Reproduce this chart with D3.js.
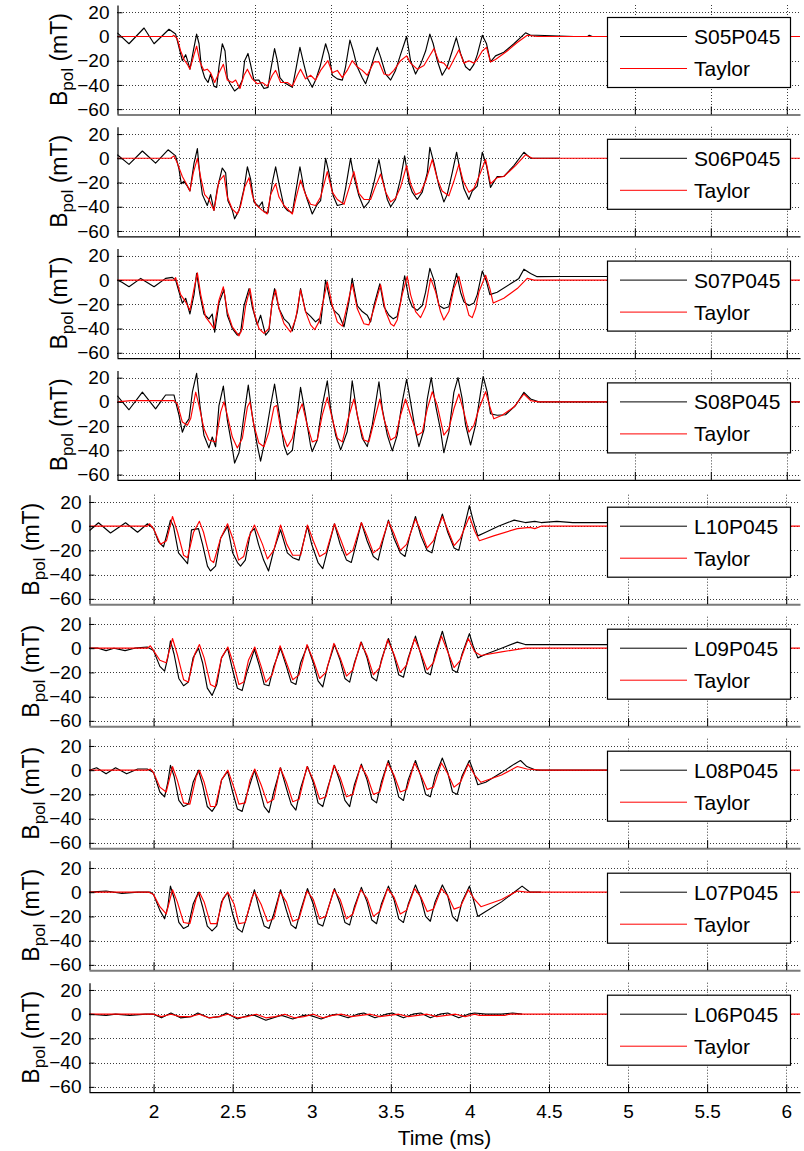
<!DOCTYPE html>
<html>
<head>
<meta charset="utf-8">
<script src="https://cdn.jsdelivr.net/npm/d3@7"></script>
<style>
  html, body { margin: 0; padding: 0; background: #fff; }
  svg { display: block; font-family: "Liberation Sans", Arial, Helvetica, sans-serif; }
</style>
</head>
<body>
<svg id="chart" width="804" height="1151"></svg>
<script>
// Poloidal field at each probe (black) against the Taylor-state reconstruction (red).
const timeTicks = [2, 2.5, 3, 3.5, 4, 4.5, 5, 5.5, 6];
const fieldTicks = [20, 0, -20, -40, -60];
const timeDomain = [1.592, 6.087];
const fieldDomain = [-64, 26];
const probeNames = ["S05P045", "S06P045", "S07P045", "S08P045", "L10P045", "L09P045", "L08P045", "L07P045", "L06P045"];
const modelName = "Taylor";

// [time (ms), B_pol (mT)]
const s05Probe = [[1.594,3],[1.671,-6],[1.770,7],[1.836,-6],[1.934,6],[1.978,2],[2.000,-9],[2.022,-20],[2.044,-15],[2.059,-21],[2.072,-27],[2.094,-12],[2.116,2],[2.132,-6],[2.147,-25],[2.169,-34],[2.191,-38],[2.208,-31],[2.230,-41],[2.248,-42],[2.263,-25],[2.285,-6],[2.303,-12],[2.318,-34],[2.336,-39],[2.366,-45],[2.395,-42],[2.417,-36],[2.432,-20],[2.454,-14],[2.471,-23],[2.493,-36],[2.526,-36],[2.559,-43],[2.586,-42],[2.603,-28],[2.629,-10],[2.647,-20],[2.664,-34],[2.691,-38],[2.746,-42],[2.768,-28],[2.796,-9],[2.822,-23],[2.844,-34],[2.877,-42],[2.899,-36],[2.928,-25],[2.965,-6],[2.987,-15],[3.009,-32],[3.042,-35],[3.075,-36],[3.096,-25],[3.125,-3],[3.147,-12],[3.173,-25],[3.206,-34],[3.228,-39],[3.250,-31],[3.283,-17],[3.305,-9],[3.327,-17],[3.360,-31],[3.393,-36],[3.425,-28],[3.458,-15],[3.498,0],[3.524,-20],[3.557,-31],[3.590,-23],[3.623,-12],[3.651,2],[3.673,-6],[3.700,-20],[3.732,-32],[3.765,-25],[3.798,-12],[3.825,-1],[3.853,-14],[3.886,-25],[3.914,-28],[3.941,-23],[3.963,-15],[3.996,1],[4.024,-6],[4.050,-21],[4.083,-16],[4.138,-13],[4.204,-6],[4.281,3],[4.314,1],[4.357,1],[4.600,0],[4.690,0],[4.700,1],[4.720,0]];
const s05Taylor = [[1.594,0],[1.956,0],[1.966,1],[1.989,-2],[2.011,-12],[2.033,-19],[2.055,-23],[2.072,-27],[2.099,-15],[2.116,-8],[2.138,-21],[2.164,-28],[2.186,-27],[2.208,-30],[2.235,-38],[2.263,-30],[2.292,-23],[2.318,-36],[2.351,-38],[2.373,-36],[2.401,-43],[2.428,-32],[2.450,-27],[2.482,-35],[2.515,-39],[2.548,-38],[2.581,-41],[2.614,-32],[2.636,-28],[2.669,-38],[2.713,-38],[2.746,-41],[2.779,-32],[2.800,-27],[2.833,-35],[2.866,-32],[2.899,-36],[2.932,-28],[2.980,-20],[3.009,-30],[3.042,-28],[3.075,-34],[3.107,-28],[3.140,-20],[3.173,-25],[3.206,-28],[3.239,-32],[3.283,-21],[3.316,-21],[3.349,-31],[3.382,-32],[3.414,-28],[3.458,-20],[3.498,-16],[3.524,-22],[3.568,-27],[3.612,-24],[3.645,-17],[3.678,-10],[3.711,-21],[3.743,-22],[3.776,-27],[3.809,-19],[3.842,-11],[3.875,-22],[3.908,-20],[3.941,-22],[3.963,-19],[3.996,-12],[4.024,-9],[4.050,-21],[4.083,-19],[4.160,-12],[4.226,-5],[4.292,1],[4.357,0],[6.087,0]];

const s06Probe = [[1.594,3],[1.671,-5],[1.759,6],[1.846,-4],[1.928,7],[1.978,2],[2.000,-9],[2.015,-21],[2.033,-19],[2.055,-23],[2.072,-27],[2.099,-4],[2.121,8],[2.138,-15],[2.154,-30],[2.186,-39],[2.208,-30],[2.230,-43],[2.252,-25],[2.285,-8],[2.307,-12],[2.322,-35],[2.351,-43],[2.366,-50],[2.395,-43],[2.428,-25],[2.450,-7],[2.471,-17],[2.493,-36],[2.526,-40],[2.548,-36],[2.559,-44],[2.586,-45],[2.614,-20],[2.636,-7],[2.658,-21],[2.691,-40],[2.713,-43],[2.746,-45],[2.768,-28],[2.796,-7],[2.822,-25],[2.844,-34],[2.877,-46],[2.910,-38],[2.932,-35],[2.965,0],[2.987,-12],[3.015,-31],[3.042,-39],[3.075,-38],[3.096,-25],[3.129,0],[3.151,-15],[3.184,-31],[3.217,-41],[3.250,-36],[3.283,-20],[3.316,-1],[3.338,-16],[3.371,-34],[3.393,-40],[3.425,-34],[3.458,-17],[3.485,2],[3.513,-20],[3.535,-28],[3.568,-34],[3.601,-28],[3.634,-12],[3.651,9],[3.678,-4],[3.711,-23],[3.743,-36],[3.765,-30],[3.798,-12],[3.827,5],[3.853,-12],[3.875,-25],[3.908,-34],[3.930,-27],[3.963,-23],[3.996,5],[4.024,-6],[4.050,-24],[4.094,-15],[4.138,-15],[4.204,-6],[4.270,5],[4.314,0],[4.500,0]];
const s06Taylor = [[1.594,0],[1.945,0],[1.967,2],[1.989,-4],[2.022,-15],[2.044,-20],[2.072,-27],[2.094,-12],[2.121,0],[2.143,-16],[2.169,-30],[2.197,-34],[2.230,-43],[2.263,-19],[2.296,-14],[2.318,-32],[2.351,-42],[2.384,-46],[2.406,-39],[2.432,-24],[2.461,-16],[2.482,-30],[2.504,-38],[2.548,-43],[2.581,-46],[2.603,-30],[2.636,-21],[2.658,-32],[2.691,-39],[2.746,-46],[2.768,-34],[2.800,-18],[2.833,-30],[2.866,-38],[2.899,-39],[2.932,-32],[2.976,-11],[3.009,-28],[3.042,-34],[3.086,-38],[3.118,-25],[3.151,-11],[3.184,-29],[3.217,-34],[3.261,-34],[3.294,-23],[3.327,-13],[3.360,-28],[3.393,-36],[3.425,-33],[3.458,-24],[3.498,-6],[3.524,-21],[3.557,-30],[3.590,-28],[3.623,-19],[3.667,-1],[3.700,-17],[3.732,-27],[3.776,-31],[3.809,-19],[3.842,-5],[3.871,-19],[3.908,-28],[3.941,-25],[3.974,-15],[4.018,-1],[4.050,-21],[4.094,-16],[4.138,-15],[4.215,-6],[4.281,3],[4.325,0],[6.087,0]];

const s07Probe = [[1.594,0],[1.627,-2],[1.671,-5.5],[1.748,1.4],[1.836,-5.5],[1.912,1.4],[1.956,2.2],[1.978,0],[2.000,-9.7],[2.022,-19],[2.044,-15],[2.072,-28],[2.099,-12],[2.116,5.5],[2.138,-12],[2.164,-28],[2.197,-32],[2.219,-28],[2.235,-43],[2.263,-19],[2.296,-8],[2.318,-29],[2.351,-40],[2.384,-45.5],[2.406,-43],[2.428,-21],[2.461,-7],[2.482,-22],[2.515,-37],[2.537,-29],[2.570,-45.5],[2.592,-42],[2.614,-17],[2.629,-7],[2.658,-23.5],[2.691,-32],[2.724,-36],[2.746,-42],[2.779,-26],[2.800,-7],[2.833,-26],[2.866,-30],[2.899,-34.5],[2.921,-32],[2.932,-36],[2.965,0],[2.998,-19],[3.020,-25],[3.053,-29],[3.086,-38.6],[3.118,-18],[3.140,1.4],[3.173,-21],[3.206,-26],[3.239,-29],[3.261,-34.5],[3.283,-21],[3.322,-3],[3.349,-22],[3.382,-29],[3.410,-32],[3.436,-30],[3.458,-18],[3.485,3.6],[3.513,-15],[3.535,-22],[3.568,-25],[3.601,-21],[3.623,-10],[3.651,9.7],[3.678,0],[3.711,-21],[3.743,-23.5],[3.776,-22],[3.798,-10],[3.827,5.5],[3.853,-10],[3.875,-18],[3.908,-21],[3.941,-19],[3.963,-12],[3.996,7.5],[4.024,-1.4],[4.046,-12],[4.094,-10],[4.182,-3],[4.237,1.4],[4.270,9],[4.314,5.5],[4.357,2.8],[4.500,3],[4.880,3]];
const s07Taylor = [[1.594,0],[1.967,0],[1.978,2],[2.011,-12],[2.044,-18],[2.072,-25],[2.099,-7],[2.121,6],[2.143,-12],[2.175,-30.4],[2.208,-36],[2.230,-40],[2.263,-16.6],[2.292,-5.5],[2.318,-26],[2.351,-38.6],[2.395,-46],[2.417,-40],[2.439,-21],[2.467,-7],[2.493,-26],[2.526,-40],[2.559,-44],[2.592,-40],[2.614,-18],[2.636,-8],[2.658,-23.5],[2.691,-36],[2.735,-43],[2.768,-32],[2.800,-8],[2.833,-26],[2.866,-37],[2.893,-41],[2.921,-34.5],[2.976,-1.4],[3.009,-21],[3.042,-34.5],[3.075,-38],[3.107,-21],[3.140,-3],[3.173,-23.5],[3.217,-36],[3.250,-37],[3.283,-23.5],[3.327,-4],[3.360,-26],[3.393,-36],[3.414,-38],[3.436,-33],[3.469,-12],[3.502,3],[3.524,-12],[3.557,-26],[3.590,-31],[3.623,-22],[3.656,1.4],[3.689,-9.7],[3.721,-26],[3.743,-33],[3.776,-26],[3.809,-7],[3.842,3],[3.871,-12],[3.908,-29],[3.930,-31],[3.952,-23.5],[3.974,-9.7],[4.018,4],[4.046,-7],[4.068,-19],[4.138,-15],[4.226,-7],[4.292,1.4],[4.336,0],[6.087,0]];

const s08Probe = [[1.594,5],[1.671,-6.5],[1.759,8],[1.846,-5.7],[1.879,0],[1.912,5.7],[1.967,5.7],[1.978,0],[2.000,-11],[2.022,-25],[2.044,-18],[2.066,-14],[2.088,8],[2.116,23.6],[2.138,-3],[2.164,-27.5],[2.197,-38],[2.219,-29],[2.241,-37],[2.263,-3],[2.292,13],[2.318,-15],[2.351,-38],[2.366,-50.5],[2.395,-42],[2.428,-11],[2.456,13.8],[2.482,-11],[2.515,-36],[2.537,-49],[2.559,-36],[2.603,-3],[2.629,14.7],[2.658,-8.7],[2.691,-36],[2.713,-43.7],[2.746,-40],[2.779,-8.7],[2.800,12],[2.833,-11],[2.866,-36],[2.877,-41],[2.910,-31.5],[2.943,-3],[2.976,17.4],[2.998,-5.7],[3.031,-27.5],[3.064,-39.6],[3.107,-24.7],[3.140,17.4],[3.173,-11],[3.206,-30],[3.239,-36.9],[3.272,-19],[3.316,16.6],[3.338,-5.7],[3.371,-27.5],[3.404,-40.5],[3.436,-27.5],[3.469,0],[3.498,18.7],[3.524,0],[3.557,-24.7],[3.579,-37],[3.612,-23],[3.634,2.4],[3.660,20],[3.689,-3],[3.721,-23],[3.743,-42],[3.776,-25],[3.809,7.9],[3.836,20],[3.864,2.4],[3.886,-19],[3.919,-35.6],[3.952,-19],[3.985,7.9],[4.002,21],[4.029,7.9],[4.050,-9.8],[4.094,-11],[4.149,-10.6],[4.215,-3],[4.270,7.9],[4.314,2.4],[4.368,0],[6.087,0]];
const s08Taylor = [[1.594,0],[1.682,1],[1.770,1],[1.967,1],[1.989,-1.6],[2.022,-16.6],[2.055,-19.3],[2.077,-13.8],[2.110,8],[2.132,-3],[2.164,-22],[2.197,-31.5],[2.241,-33],[2.274,-8.4],[2.296,0],[2.318,-11],[2.351,-29],[2.384,-38],[2.417,-30],[2.450,-4.3],[2.467,0],[2.493,-19.3],[2.526,-34],[2.559,-37],[2.592,-25],[2.625,-4.3],[2.643,-3],[2.669,-22],[2.713,-37],[2.746,-30],[2.779,-11],[2.811,-1.6],[2.844,-19.3],[2.877,-33],[2.910,-31.5],[2.943,-11],[2.976,3.8],[3.009,-14],[3.042,-30],[3.075,-33],[3.107,-16.6],[3.151,2.4],[3.184,-16.6],[3.217,-31.5],[3.250,-33],[3.283,-16.6],[3.322,2.4],[3.349,-14],[3.393,-31.5],[3.425,-29],[3.458,-11],[3.491,2.4],[3.524,-11],[3.568,-27.5],[3.601,-25],[3.634,-5.7],[3.667,8.4],[3.700,-3],[3.743,-27.5],[3.776,-22],[3.809,-5.7],[3.842,6.5],[3.875,-8.4],[3.908,-25],[3.941,-19.3],[3.974,-5.7],[4.018,8.4],[4.050,-5.7],[4.072,-14],[4.127,-11],[4.204,-4.3],[4.270,6.5],[4.314,1],[4.368,0],[6.087,0]];

const l10Probe = [[1.596,-3.6],[1.652,2.8],[1.728,-5.6],[1.823,2.8],[1.899,-5],[1.962,2],[2.000,-2],[2.032,-13],[2.063,-17],[2.088,-5],[2.107,5],[2.126,0],[2.158,-22],[2.190,-27],[2.215,-31],[2.240,-3],[2.284,-2],[2.310,-15],[2.341,-33],[2.360,-37],[2.392,-33],[2.424,-10],[2.468,0],[2.500,-22],[2.531,-30],[2.550,-33],[2.580,-28],[2.613,-5],[2.638,-2],[2.664,-15],[2.696,-28],[2.727,-37],[2.760,-20],[2.803,-3],[2.846,-22],[2.880,-26],[2.920,-28],[2.973,0],[3.000,-15],[3.040,-30],[3.070,-35],[3.100,-20],[3.144,2],[3.180,-15],[3.220,-28],[3.250,-30],[3.280,-15],[3.314,3],[3.350,-12],[3.390,-25],[3.420,-28],[3.450,-12],[3.485,5],[3.520,-10],[3.560,-22],[3.590,-25],[3.620,-8],[3.656,8],[3.690,-8],[3.730,-20],[3.760,-22],[3.790,-5],[3.826,10],[3.860,-5],[3.900,-18],[3.930,-20],[3.960,-3],[3.997,17],[4.020,5],[4.050,-8],[4.100,-5],[4.180,0],[4.280,5],[4.350,3],[4.410,4],[4.450,3],[4.550,4],[4.650,3],[4.750,3],[4.880,3]];
const l10Taylor = [[1.594,0],[1.962,0],[1.975,2],[2.000,-2],[2.044,-15],[2.082,-12],[2.120,8],[2.152,-5],[2.190,-24],[2.215,-26],[2.253,-5],[2.290,4],[2.316,-5],[2.360,-28],[2.380,-30],[2.424,-10],[2.468,2],[2.506,-12],[2.538,-28],[2.570,-25],[2.600,-10],[2.638,1],[2.689,-15],[2.720,-27],[2.760,-20],[2.803,1],[2.843,-15],[2.880,-24],[2.930,-24],[2.973,1],[3.010,-12],[3.050,-25],[3.090,-22],[3.144,2],[3.180,-10],[3.220,-24],[3.260,-20],[3.314,3],[3.350,-8],[3.390,-22],[3.430,-18],[3.485,4],[3.520,-6],[3.560,-20],[3.600,-15],[3.656,6],[3.690,-4],[3.730,-18],[3.770,-12],[3.826,8],[3.860,-3],[3.900,-16],[3.940,-10],[3.997,8],[4.030,-4],[4.060,-12],[4.150,-8],[4.300,-2],[4.380,-1],[4.410,-2],[4.450,0],[6.087,0]];

const l09Probe = [[1.594,0],[1.650,0],[1.700,-2],[1.750,0],[1.820,-2],[1.880,0],[1.960,1],[2.000,-2],[2.040,-15],[2.070,-19],[2.090,-8],[2.107,6],[2.130,-5],[2.160,-25],[2.190,-31],[2.220,-28],[2.250,-8],[2.284,0],[2.310,-12],[2.340,-33],[2.370,-39],[2.400,-30],[2.430,-8],[2.468,0],[2.500,-18],[2.530,-33],[2.560,-35],[2.590,-20],[2.638,-1],[2.670,-15],[2.700,-30],[2.730,-31],[2.760,-15],[2.803,0],[2.840,-15],[2.870,-28],[2.900,-30],[2.930,-12],[2.973,2],[3.010,-12],[3.040,-27],[3.070,-32],[3.100,-15],[3.144,3],[3.180,-10],[3.210,-25],[3.240,-28],[3.270,-12],[3.314,5],[3.350,-8],[3.380,-24],[3.410,-27],[3.440,-10],[3.485,8],[3.520,-6],[3.550,-22],[3.580,-24],[3.610,-8],[3.656,10],[3.690,-5],[3.720,-20],[3.750,-22],[3.780,-5],[3.826,14],[3.860,-2],[3.890,-18],[3.920,-20],[3.950,-5],[3.997,12],[4.020,2],[4.050,-8],[4.100,-5],[4.200,0],[4.300,5],[4.350,3],[4.450,3],[4.600,3],[4.880,3]];
const l09Taylor = [[1.594,0],[1.962,0],[1.980,2],[2.000,-2],[2.040,-10],[2.080,-12],[2.120,8],[2.150,-5],[2.190,-26],[2.220,-28],[2.260,-5],[2.290,3],[2.320,-8],[2.360,-30],[2.390,-32],[2.430,-8],[2.470,1],[2.510,-15],[2.540,-30],[2.570,-28],[2.600,-10],[2.640,1],[2.680,-15],[2.710,-28],[2.750,-22],[2.800,2],[2.840,-12],[2.880,-26],[2.920,-22],[2.970,3],[3.010,-10],[3.050,-25],[3.090,-20],[3.140,4],[3.180,-8],[3.220,-23],[3.260,-18],[3.310,5],[3.350,-6],[3.390,-22],[3.430,-16],[3.480,7],[3.520,-5],[3.560,-20],[3.600,-14],[3.650,8],[3.690,-4],[3.730,-18],[3.770,-12],[3.820,10],[3.860,-3],[3.900,-16],[3.940,-10],[3.990,8],[4.030,-3],[4.070,-6],[4.200,-3],[4.350,0],[6.087,0]];

const l08Probe = [[1.594,0],[1.640,2],[1.700,-3],[1.760,2],[1.830,-3],[1.900,1],[1.960,1],[2.000,-2],[2.040,-18],[2.070,-22],[2.090,-10],[2.107,4],[2.130,-5],[2.160,-25],[2.190,-30],[2.220,-28],[2.250,-10],[2.284,0],[2.310,-12],[2.340,-30],[2.370,-34],[2.400,-28],[2.430,-8],[2.468,-1],[2.500,-18],[2.530,-32],[2.560,-34],[2.590,-20],[2.638,0],[2.670,-15],[2.700,-30],[2.730,-35],[2.760,-18],[2.803,2],[2.840,-15],[2.870,-28],[2.900,-33],[2.930,-15],[2.973,3],[3.010,-10],[3.040,-27],[3.070,-30],[3.100,-15],[3.144,4],[3.180,-10],[3.210,-25],[3.240,-30],[3.270,-12],[3.314,5],[3.350,-8],[3.380,-24],[3.410,-27],[3.440,-10],[3.485,8],[3.520,-6],[3.550,-22],[3.580,-25],[3.610,-8],[3.656,8],[3.690,-5],[3.720,-20],[3.750,-22],[3.780,-5],[3.826,10],[3.860,-2],[3.890,-18],[3.920,-20],[3.950,-5],[3.997,8],[4.020,0],[4.050,-12],[4.100,-10],[4.200,-2],[4.280,5],[4.320,8],[4.360,3],[4.420,0],[4.600,0],[4.900,0]];
const l08Taylor = [[1.594,0],[1.962,0],[1.980,1],[2.000,-2],[2.040,-14],[2.080,-18],[2.120,3],[2.150,-8],[2.190,-27],[2.230,-28],[2.270,-5],[2.290,0],[2.320,-10],[2.360,-30],[2.390,-30],[2.430,-8],[2.470,0],[2.510,-15],[2.540,-28],[2.580,-27],[2.610,-8],[2.640,1],[2.680,-12],[2.720,-27],[2.760,-24],[2.800,2],[2.840,-10],[2.880,-26],[2.920,-24],[2.970,3],[3.010,-8],[3.050,-24],[3.090,-22],[3.140,4],[3.180,-6],[3.220,-22],[3.260,-20],[3.310,4],[3.350,-5],[3.390,-20],[3.430,-18],[3.480,6],[3.520,-4],[3.560,-18],[3.600,-16],[3.650,6],[3.690,-4],[3.730,-16],[3.770,-14],[3.820,6],[3.860,-3],[3.900,-14],[3.940,-10],[3.990,5],[4.030,-4],[4.070,-10],[4.200,-4],[4.300,3],[4.360,1],[4.450,0],[6.087,0]];

const l07Probe = [[1.594,0],[1.700,1],[1.800,-1],[1.900,0],[1.980,0],[2.000,-2],[2.040,-15],[2.070,-22],[2.090,-12],[2.107,5],[2.130,-5],[2.160,-25],[2.190,-30],[2.220,-28],[2.250,-10],[2.284,0],[2.310,-12],[2.340,-28],[2.370,-32],[2.400,-28],[2.430,-8],[2.468,0],[2.500,-18],[2.530,-30],[2.560,-33],[2.590,-20],[2.638,2],[2.670,-15],[2.700,-28],[2.730,-30],[2.760,-18],[2.803,2],[2.840,-15],[2.870,-27],[2.900,-30],[2.930,-15],[2.973,3],[3.010,-10],[3.040,-26],[3.070,-28],[3.100,-15],[3.144,3],[3.180,-10],[3.210,-25],[3.240,-27],[3.270,-12],[3.314,4],[3.350,-8],[3.380,-23],[3.410,-26],[3.440,-10],[3.485,5],[3.520,-6],[3.550,-22],[3.580,-25],[3.610,-10],[3.656,6],[3.690,-5],[3.720,-20],[3.750,-24],[3.780,-8],[3.826,6],[3.860,-3],[3.890,-20],[3.920,-24],[3.950,-8],[3.997,5],[4.020,-5],[4.050,-20],[4.100,-16],[4.200,-8],[4.280,0],[4.330,5],[4.380,0],[4.450,0]];
const l07Taylor = [[1.594,0],[1.970,0],[2.000,-2],[2.040,-12],[2.080,-18],[2.120,2],[2.150,-8],[2.190,-25],[2.230,-26],[2.270,-5],[2.290,0],[2.320,-8],[2.360,-26],[2.400,-26],[2.440,-5],[2.470,0],[2.510,-10],[2.540,-26],[2.580,-25],[2.620,-5],[2.640,0],[2.680,-10],[2.720,-24],[2.760,-22],[2.800,0],[2.840,-8],[2.880,-24],[2.920,-22],[2.970,1],[3.010,-6],[3.050,-22],[3.090,-20],[3.140,2],[3.180,-6],[3.220,-22],[3.260,-18],[3.310,2],[3.350,-5],[3.390,-20],[3.430,-16],[3.480,3],[3.520,-4],[3.560,-18],[3.600,-15],[3.650,3],[3.690,-4],[3.730,-16],[3.770,-14],[3.820,3],[3.860,-3],[3.900,-14],[3.940,-12],[3.990,2],[4.030,-6],[4.070,-12],[4.200,-6],[4.300,1],[4.360,0],[6.087,0]];

const l06Probe = [[1.594,0],[1.700,-1],[1.760,0],[1.850,-1],[1.950,0],[2.000,0],[2.050,-3],[2.110,1],[2.170,-3],[2.240,-2],[2.280,1],[2.350,-3],[2.420,-2],[2.460,1],[2.530,-4],[2.600,-1],[2.640,-1],[2.710,-5],[2.780,-2],[2.810,-1],[2.880,-4],[2.950,-1],[2.990,-1],[3.060,-4],[3.120,-1],[3.160,0],[3.230,-3],[3.290,0],[3.330,1],[3.400,-3],[3.470,0],[3.510,1],[3.580,-3],[3.640,0],[3.690,1],[3.750,-3],[3.810,0],[3.860,1],[3.930,-3],[3.990,0],[4.030,1],[4.100,0],[4.200,0],[4.270,1],[4.330,0]];
const l06Taylor = [[1.594,0],[2.000,0],[2.050,-2],[2.110,0],[2.170,-2],[2.230,-2],[2.290,0],[2.350,-3],[2.410,-2],[2.470,0],[2.530,-3],[2.590,-2],[2.650,0],[2.710,-3],[2.770,-2],[2.830,0],[2.890,-3],[2.950,-2],[3.010,0],[3.070,-3],[3.130,-1],[3.190,0],[3.250,-2],[3.310,-1],[3.370,0],[3.430,-2],[3.490,-1],[3.550,0],[3.610,-2],[3.670,-1],[3.730,0],[3.790,-2],[3.850,-1],[3.910,0],[3.970,-2],[4.030,0],[4.060,-1],[4.220,-1],[4.250,0],[6.087,0]];

const probeSeries = [s05Probe, s06Probe, s07Probe, s08Probe, l10Probe, l09Probe, l08Probe, l07Probe, l06Probe];
const taylorSeries = [s05Taylor, s06Taylor, s07Taylor, s08Taylor, l10Taylor, l09Taylor, l08Taylor, l07Taylor, l06Taylor];

const svg = d3.select("#chart");
const fontFamily = '"Liberation Sans", Arial, Helvetica, sans-serif';

// Panel frames: the four S-array panels sit a little further right than the L-array panels.
function panelFrame(i) {
  const isS = i < 4;
  const left = isS ? 117 : 89;
  const y20 = i < 4 ? 12.3 + 121.8 * i : 502 + 122 * (i - 4);
  return { left, right: 800, top: y20 - 7.3, bottom: y20 + 101.7 };
}

probeNames.forEach((name, i) => {
  const f = panelFrame(i);
  const x = d3.scaleLinear().domain(timeDomain).range([f.left, f.right]);
  const y = d3.scaleLinear().domain(fieldDomain).range([f.bottom, f.top]);
  const g = svg.append("g");
  const isLast = i === probeNames.length - 1;

  // dotted grid
  g.append("g").selectAll("line.h").data(fieldTicks).join("line")
    .attr("x1", f.left).attr("x2", f.right)
    .attr("y1", d => Math.round(y(d)) + 0.5).attr("y2", d => Math.round(y(d)) + 0.5)
    .attr("stroke", "#3a3a3a").attr("stroke-width", 1).attr("stroke-dasharray", "1,2");
  g.append("g").selectAll("line.v").data(timeTicks).join("line")
    .attr("x1", d => Math.round(x(d)) + 0.5).attr("x2", d => Math.round(x(d)) + 0.5)
    .attr("y1", f.top).attr("y2", f.bottom)
    .attr("stroke", "#3a3a3a").attr("stroke-width", 1).attr("stroke-dasharray", "1,2");

  // traces
  const clipId = "clip" + i;
  svg.append("clipPath").attr("id", clipId).append("rect")
    .attr("x", f.left).attr("y", f.top).attr("width", f.right - f.left).attr("height", f.bottom - f.top);
  const line = d3.line().x(d => x(d[0])).y(d => y(d[1]));
  const traces = g.append("g").attr("clip-path", `url(#${clipId})`);
  traces.append("path").datum(probeSeries[i]).attr("d", line)
    .attr("fill", "none").attr("stroke", "#000").attr("stroke-width", 1.15).attr("stroke-linejoin", "round");
  traces.append("path").datum(taylorSeries[i]).attr("d", line)
    .attr("fill", "none").attr("stroke", "#ff0000").attr("stroke-width", 1.15).attr("stroke-linejoin", "round");

  // axes with inward ticks
  const yAxis = d3.axisLeft(y).tickValues(fieldTicks).tickSizeInner(-5).tickSizeOuter(0).tickPadding(8);
  const ya = g.append("g").attr("transform", `translate(${f.left + 0.5},0)`).call(yAxis);
  ya.select(".domain").attr("stroke", "#000").attr("stroke-width", 1.2);
  ya.selectAll("text").attr("font-size", 19).attr("font-family", fontFamily).attr("fill", "#000");

  const xAxis = d3.axisBottom(x).tickValues(timeTicks).tickSizeInner(-8).tickSizeOuter(0).tickPadding(12)
    .tickFormat(isLast ? d3.format("") : () => "");
  const xa = g.append("g").attr("transform", `translate(0,${f.bottom + 0.5})`).call(xAxis);
  const axisColour = (i >= 4 && !isLast) ? "#7a7a7a" : "#000";
  xa.select(".domain").attr("stroke", axisColour).attr("stroke-width", (i >= 4 && !isLast) ? 2 : 1.2);
  xa.selectAll("text").attr("font-size", 19).attr("font-family", fontFamily).attr("fill", "#000");

  // y label: B_pol (mT)
  const label = g.append("text")
    .attr("transform", `translate(${f.left - 50},${(f.top + f.bottom) / 2}) rotate(-90)`)
    .attr("text-anchor", "middle").attr("font-size", 23).attr("font-family", fontFamily).attr("fill", "#000");
  label.append("tspan").text("B");
  label.append("tspan").attr("font-size", 17).attr("dy", 6).text("pol");
  label.append("tspan").attr("dy", -6).text(" (mT)");

  // legend
  const ly = f.top + 12;
  const lg = g.append("g");
  lg.append("rect").attr("x", 607.5).attr("y", ly + 0.5).attr("width", 183).attr("height", 70)
    .attr("fill", "#fff").attr("stroke", "#000").attr("stroke-width", 1.2);
  const entries = [{ label: name, colour: "#000" }, { label: modelName, colour: "#ff0000" }];
  entries.forEach((e, k) => {
    const cy = ly + 19 + 32 * k;
    lg.append("line").attr("x1", 620).attr("x2", 687).attr("y1", cy + 0.5).attr("y2", cy + 0.5)
      .attr("stroke", e.colour).attr("stroke-width", 1);
    lg.append("text").attr("x", 694).attr("y", cy + 8).attr("font-size", 21)
      .attr("font-family", fontFamily).attr("fill", "#000").text(e.label);
  });
});

// shared time axis title
const lastFrame = panelFrame(probeNames.length - 1);
svg.append("text").attr("x", (lastFrame.left + lastFrame.right) / 2).attr("y", 1145)
  .attr("text-anchor", "middle").attr("font-size", 21).attr("font-family", fontFamily)
  .attr("fill", "#000").text("Time (ms)");
</script>
</body>
</html>
